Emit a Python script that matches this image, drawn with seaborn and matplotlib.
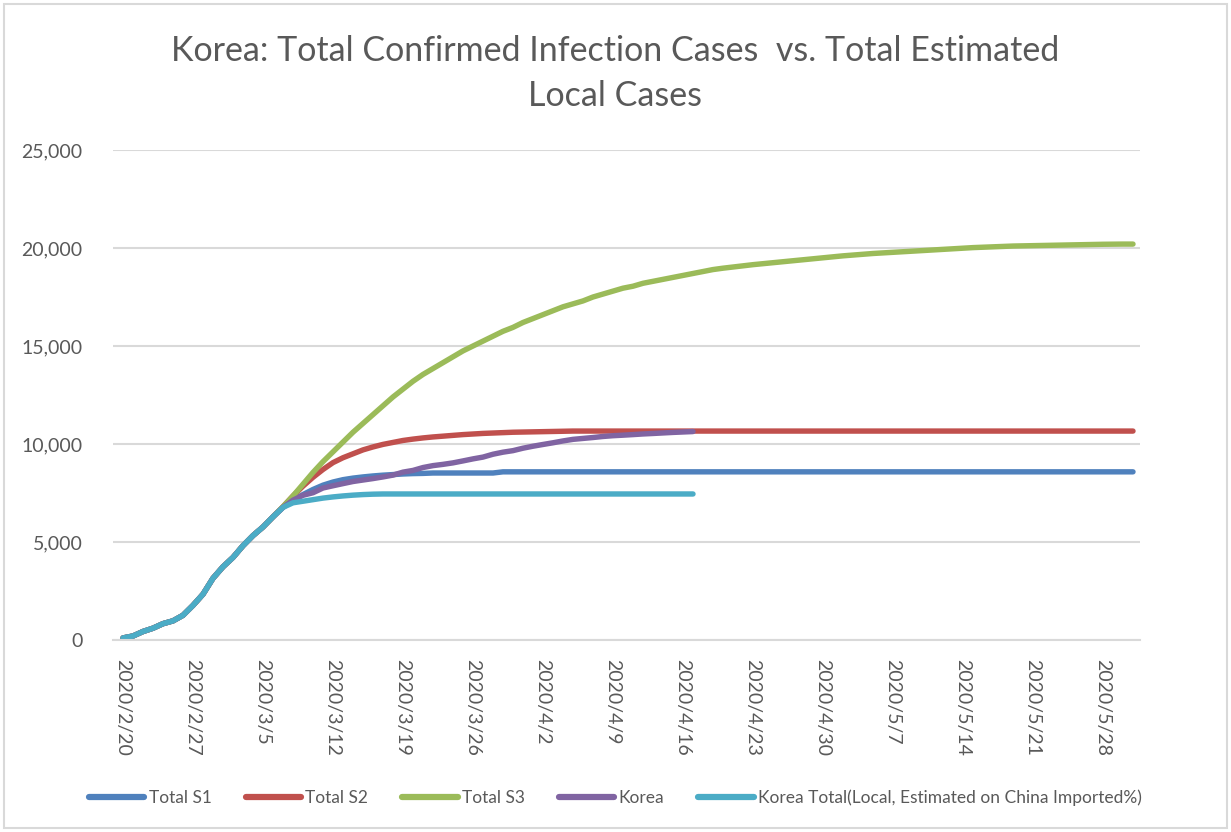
import pandas as pd
import numpy as np
import matplotlib
matplotlib.use('Agg')
import matplotlib.pyplot as plt
from matplotlib.patches import Rectangle
import seaborn as sns

# Daily cumulative cases, starting 2020/2/20
start_date = '2020-02-20'

korea = [104, 204, 433, 602, 833, 977, 1261, 1766, 2337, 3150,
         3736, 4212, 4812, 5328, 5766, 6284, 6767, 7134, 7382, 7513,
         7755, 7869, 7979, 8086, 8162, 8236, 8320, 8413, 8565, 8652,
         8799, 8897, 8961, 9037, 9137, 9241, 9332, 9478, 9583, 9661,
         9786, 9887, 9976, 10062, 10156, 10237, 10284, 10331, 10384, 10423,
         10450, 10480, 10512, 10537, 10564, 10591, 10613, 10635]

korea_local = [104, 204, 433, 602, 833, 977, 1261, 1766, 2337, 3150,
               3736, 4212, 4812, 5328, 5766, 6284, 6767, 7000, 7080, 7160,
               7240, 7300, 7350, 7390, 7420, 7440, 7450, 7450, 7450, 7450,
               7450, 7450, 7450, 7450, 7450, 7450, 7450, 7450, 7450, 7450,
               7450, 7450, 7450, 7450, 7450, 7450, 7450, 7450, 7450, 7450,
               7450, 7450, 7450, 7450, 7450, 7450, 7450, 7450]

total_s1 = [104, 204, 433, 602, 833, 977, 1261, 1766, 2337, 3150,
            3736, 4212, 4812, 5328, 5766, 6284, 6767, 7150, 7420, 7680,
            7900, 8060, 8180, 8260, 8320, 8370, 8410, 8440, 8470, 8490,
            8500, 8520, 8520, 8520, 8520, 8520, 8520, 8520, 8580, 8580,
            8580, 8580, 8580, 8580, 8580, 8580, 8580, 8580, 8580, 8580,
            8580, 8580, 8580, 8580, 8580, 8580, 8580, 8580, 8580, 8580,
            8580, 8580, 8580, 8580, 8580, 8580, 8580, 8580, 8580, 8580,
            8580, 8580, 8580, 8580, 8580, 8580, 8580, 8580, 8580, 8580,
            8580, 8580, 8580, 8580, 8580, 8580, 8580, 8580, 8580, 8580,
            8580, 8580, 8580, 8580, 8580, 8580, 8580, 8580, 8580, 8580,
            8580, 8580]

total_s2 = [104, 204, 433, 602, 833, 977, 1261, 1766, 2337, 3150,
            3736, 4212, 4812, 5328, 5766, 6284, 6800, 7350, 7850, 8300,
            8700, 9050, 9300, 9500, 9700, 9850, 9980, 10080, 10180, 10250,
            10310, 10360, 10400, 10440, 10480, 10510, 10540, 10560, 10580, 10600,
            10610, 10620, 10630, 10640, 10650, 10660, 10660, 10660, 10660, 10660,
            10660, 10660, 10660, 10660, 10660, 10660, 10660, 10660, 10660, 10660,
            10660, 10660, 10660, 10660, 10660, 10660, 10660, 10660, 10660, 10660,
            10660, 10660, 10660, 10660, 10660, 10660, 10660, 10660, 10660, 10660,
            10660, 10660, 10660, 10660, 10660, 10660, 10660, 10660, 10660, 10660,
            10660, 10660, 10660, 10660, 10660, 10660, 10660, 10660, 10660, 10660,
            10660, 10660]

total_s3 = [104, 204, 433, 602, 833, 977, 1261, 1766, 2337, 3150,
            3736, 4212, 4812, 5328, 5766, 6284, 6800, 7350, 7950, 8550,
            9100, 9600, 10100, 10600, 11050, 11500, 11950, 12400, 12800, 13200,
            13550, 13850, 14150, 14450, 14750, 15000, 15250, 15500, 15750, 15950,
            16200, 16400, 16600, 16800, 17000, 17150, 17300, 17500, 17650, 17800,
            17950, 18050, 18200, 18300, 18400, 18500, 18600, 18700, 18800, 18900,
            18970, 19030, 19090, 19150, 19200, 19250, 19300, 19350, 19400, 19450,
            19500, 19550, 19600, 19640, 19680, 19720, 19750, 19780, 19810, 19840,
            19870, 19900, 19930, 19960, 19990, 20020, 20040, 20060, 20080, 20100,
            20110, 20120, 20130, 20140, 20150, 20160, 20170, 20180, 20190, 20195,
            20200, 20200]

series_names = ['Total S1', 'Total S2', 'Total S3', 'Korea',
                'Korea Total(Local, Estimated on China Imported%)']
series_values = [total_s1, total_s2, total_s3, korea, korea_local]
colors = ['#4F81BD', '#C0504D', '#9BBB59', '#8064A2', '#4BACC6']

frames = []
for name, vals in zip(series_names, series_values):
    frames.append(pd.DataFrame({
        'date': pd.date_range(start_date, periods=len(vals), freq='D'),
        'cases': vals,
        'series': name,
    }))
df = pd.concat(frames, ignore_index=True)

sns.set_theme(style='white')
plt.rcParams['font.family'] = ['Lato', 'DejaVu Sans']
text_color = '#595959'
grid_color = '#D9D9D9'

fig = plt.figure(figsize=(12.31, 8.32), dpi=100)
ax = fig.add_axes([113 / 1231, 1 - 640 / 832, (1140 - 113) / 1231, 490 / 832])

sns.lineplot(data=df, x='date', y='cases', hue='series', hue_order=series_names,
             palette=colors, linewidth=3.9, ax=ax, legend=False,
             solid_capstyle='round', solid_joinstyle='round')

t0 = pd.Timestamp(start_date)
ax.set_xlim(t0 - pd.Timedelta(days=1), t0 + pd.Timedelta(days=101.7))
ax.set_ylim(0, 25000)
ax.set_yticks(np.arange(0, 25001, 5000))
ax.yaxis.set_major_formatter(matplotlib.ticker.FuncFormatter(lambda v, p: f'{int(v):,}'))

tick_dates = pd.date_range(start_date, '2020-05-31', freq='7D')
ax.set_xticks(tick_dates)
ax.set_xticklabels([f'{d.year}/{d.month}/{d.day}' for d in tick_dates],
                   rotation=270, ha='center', va='top')

ax.tick_params(axis='x', length=0, pad=14, labelsize=14, labelcolor=text_color)
ax.tick_params(axis='y', length=0, pad=22, labelsize=14, labelcolor=text_color)
ax.grid(axis='y', color=grid_color, linewidth=1.5)
ax.set_axisbelow(True)
for s in ['top', 'right', 'left']:
    ax.spines[s].set_visible(False)
ax.spines['bottom'].set_color(grid_color)
ax.spines['bottom'].set_linewidth(1.5)
ax.set_xlabel('')
ax.set_ylabel('')

fig.text(0.5, 1 - 51 / 832, 'Korea: Total Confirmed Infection Cases  vs. Total Estimated',
         ha='center', va='center', fontsize=24.5, color=text_color)
fig.text(0.5, 1 - 96 / 832, 'Local Cases',
         ha='center', va='center', fontsize=24.5, color=text_color)

handles = [plt.Line2D([0], [0], color=c, linewidth=4.5, solid_capstyle='round')
           for c in colors]
leg = fig.legend(handles, series_names, loc='center', bbox_to_anchor=(0.5, 1 - 798 / 832),
                 ncol=5, frameon=False, fontsize=12.5, handlelength=3.2,
                 handletextpad=0.25, columnspacing=1.95)
for t in leg.get_texts():
    t.set_color(text_color)

# light border around the chart area
fig.patches.append(Rectangle((4 / 1231, 4 / 832), 1 - 8 / 1231, 1 - 8 / 832,
                             transform=fig.transFigure, fill=False,
                             edgecolor=grid_color, linewidth=1.5))

plt.savefig('out.png', dpi=100)
